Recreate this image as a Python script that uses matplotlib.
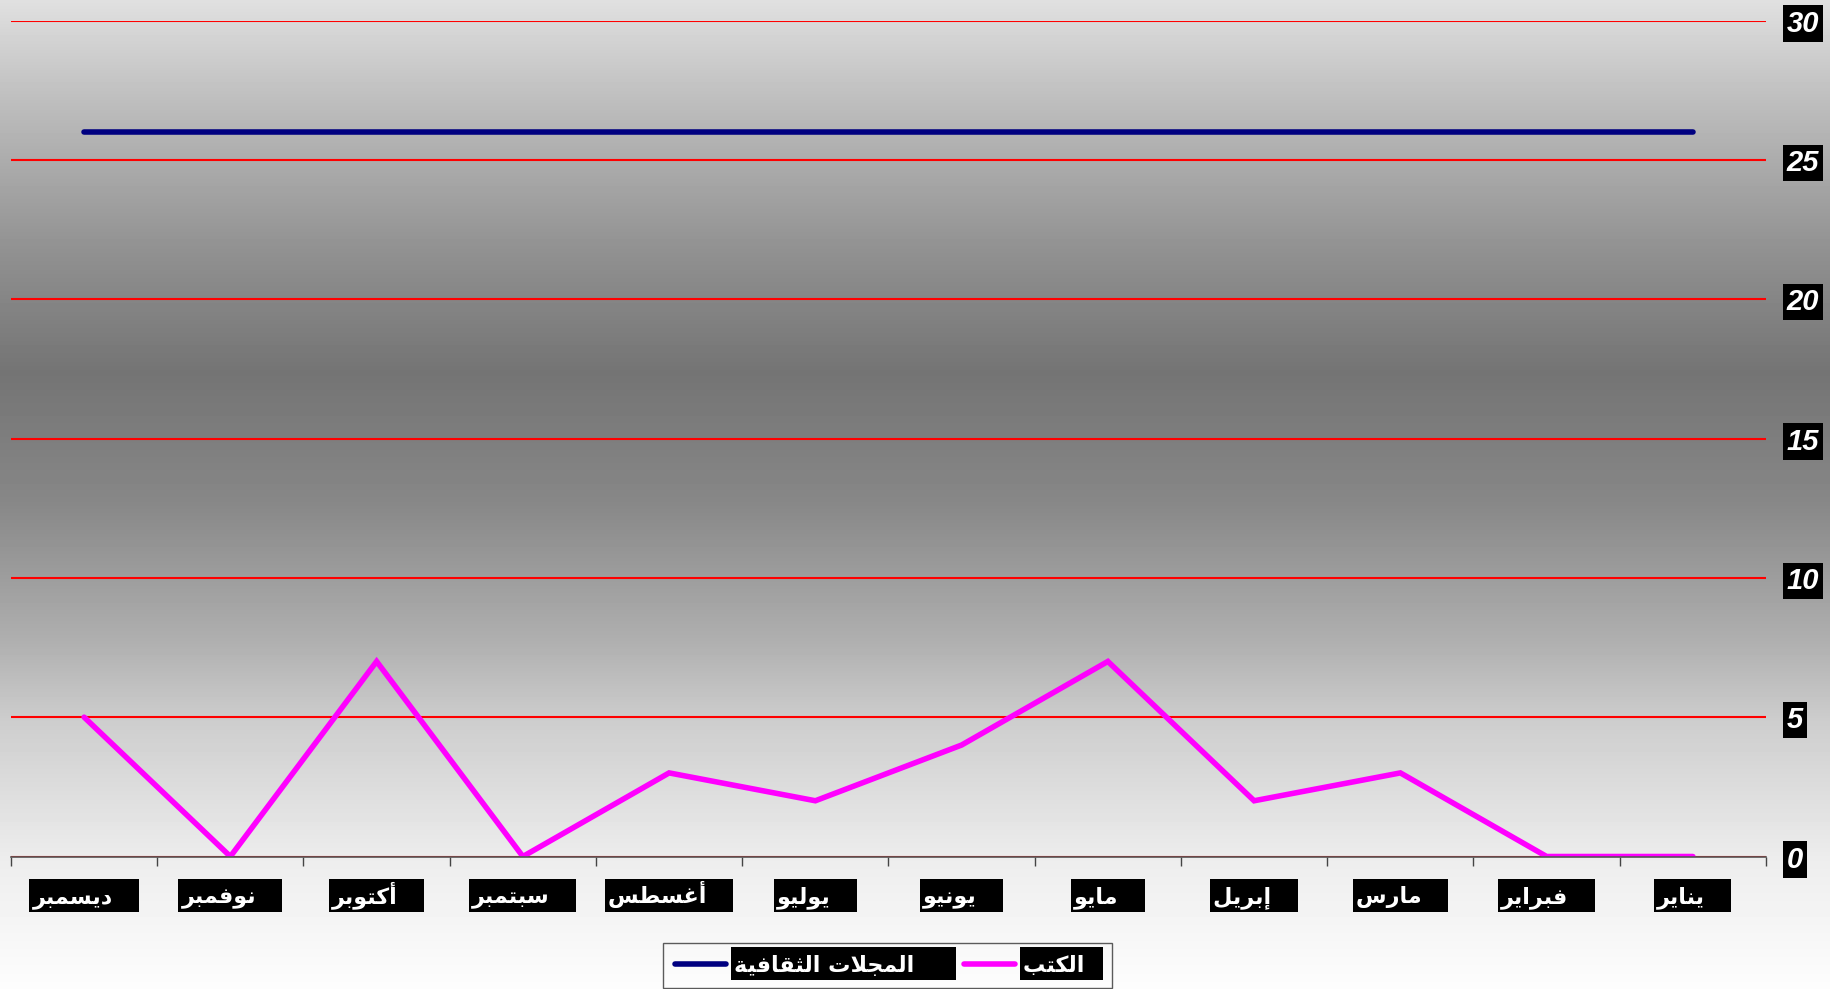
import matplotlib
matplotlib.use("Agg")
import matplotlib.pyplot as plt
import numpy as np
from matplotlib.lines import Line2D
from matplotlib.patches import Rectangle

# data (Jan -> Dec), drawn right to left
months = ["يناير", "فبراير", "مارس", "إبريل", "مايو", "يونيو",
          "يوليو", "أغسطس", "سبتمبر", "أكتوبر", "نوفمبر", "ديسمبر"]
books = [0, 0, 3, 2, 7, 4, 2, 3, 0, 7, 0, 5]
magazines = [26] * 12
name_books = "الكتب"
name_mags = "المجلات الثقافية"
yticks = [0, 5, 10, 15, 20, 25, 30]

# --- minimal arabic shaping (matplotlib has no bidi/shaping) ---
FORMS = {
    'ا': ('\uFE8D', '\uFE8E'), 'أ': ('\uFE83', '\uFE84'), 'إ': ('\uFE87', '\uFE88'),
    'ب': ('\uFE8F', '\uFE90', '\uFE91', '\uFE92'), 'ة': ('\uFE93', '\uFE94'),
    'ت': ('\uFE95', '\uFE96', '\uFE97', '\uFE98'), 'ث': ('\uFE99', '\uFE9A', '\uFE9B', '\uFE9C'),
    'ج': ('\uFE9D', '\uFE9E', '\uFE9F', '\uFEA0'), 'د': ('\uFEA9', '\uFEAA'),
    'ر': ('\uFEAD', '\uFEAE'), 'س': ('\uFEB1', '\uFEB2', '\uFEB3', '\uFEB4'),
    'ط': ('\uFEC1', '\uFEC2', '\uFEC3', '\uFEC4'), 'غ': ('\uFECD', '\uFECE', '\uFECF', '\uFED0'),
    'ف': ('\uFED1', '\uFED2', '\uFED3', '\uFED4'), 'ق': ('\uFED5', '\uFED6', '\uFED7', '\uFED8'),
    'ك': ('\uFED9', '\uFEDA', '\uFEDB', '\uFEDC'), 'ل': ('\uFEDD', '\uFEDE', '\uFEDF', '\uFEE0'),
    'م': ('\uFEE1', '\uFEE2', '\uFEE3', '\uFEE4'), 'ن': ('\uFEE5', '\uFEE6', '\uFEE7', '\uFEE8'),
    'ه': ('\uFEE9', '\uFEEA', '\uFEEB', '\uFEEC'), 'و': ('\uFEED', '\uFEEE'),
    'ي': ('\uFEF1', '\uFEF2', '\uFEF3', '\uFEF4'),
}
LAMALEF = {'ا': ('\uFEFB', '\uFEFC'), 'أ': ('\uFEF7', '\uFEF8'), 'إ': ('\uFEF9', '\uFEFA')}


def shape(text, trail=0):
    units = []
    i = 0
    while i < len(text):
        c = text[i]
        if c == 'ل' and i + 1 < len(text) and text[i + 1] in LAMALEF:
            units.append(('LA', text[i + 1]))
            i += 2
        else:
            units.append(c)
            i += 1

    def forms(u):
        if isinstance(u, tuple):
            return LAMALEF[u[1]]
        return FORMS.get(u)

    out = []
    for k, u in enumerate(units):
        f = forms(u)
        if f is None:
            out.append(u)
            continue
        prev = forms(units[k - 1]) if k > 0 else None
        nxt = forms(units[k + 1]) if k + 1 < len(units) else None
        jp = prev is not None and len(prev) == 4
        jn = len(f) == 4 and nxt is not None
        if jp and jn:
            out.append(f[3])
        elif jp:
            out.append(f[1])
        elif jn:
            out.append(f[2])
        else:
            out.append(f[0])
    return ''.join(reversed(out)) + ' ' * trail


W, H = 1831, 989
ARFONT = ['DejaVu Sans']

fig = plt.figure(figsize=(W / 100, H / 100), dpi=100)

# background gradient
bg = fig.add_axes([0, 0, 1, 1])
rows = np.arange(H)
shade = np.interp(rows, [0, 100, 250, 372, 500, 640, 720, 860, 989],
                  [224, 190, 145, 116, 135, 175, 205, 237, 253]) / 255.0
bg.imshow(np.tile(shade[:, None], (1, 4)), cmap='gray', vmin=0, vmax=1,
          aspect='auto', extent=[0, 1, 0, 1], origin='upper')
bg.set_xlim(0, 1)
bg.set_ylim(0, 1)
bg.set_axis_off()

ax = fig.add_axes([11 / W, 132.5 / H, 1755 / W, 836 / H])
ax.set_facecolor('none')

x = np.arange(len(months))
ax.plot(x, magazines, color='#000080', lw=4, solid_capstyle='round', zorder=3)
ax.plot(x, books, color='#ff00ff', lw=4, solid_capstyle='round',
        solid_joinstyle='miter', zorder=3)

ax.set_xlim(11.5, -0.5)
ax.set_ylim(0, 30)

for s in ['left', 'right', 'top']:
    ax.spines[s].set_visible(False)
ax.spines['bottom'].set_color('#555555')
ax.spines['bottom'].set_linewidth(1.2)
ax.spines['bottom'].set_zorder(4)

ax.set_axisbelow(True)
ax.grid(axis='y', color='#ff0000', lw=1.5)

ax.yaxis.tick_right()
ax.set_yticks(yticks)
ax.set_yticklabels([str(v) for v in yticks], family='Liberation Sans',
                   fontsize=21, fontweight='bold', style='italic', color='white')
ax.tick_params(axis='y', length=0, pad=15)
for t in ax.get_yticklabels():
    t.set_bbox(dict(facecolor='black', edgecolor='none', pad=3))

# baseline of the month names ~47 px under the axis line
ax.set_xticks(x)
ax.set_xticklabels([shape(m, 3) for m in months], family=ARFONT,
                   fontsize=16, fontweight='bold', color='white', va='baseline')
ax.set_xticks(np.arange(-0.5, 12, 1), minor=True)
ax.tick_params(axis='x', which='major', length=0, pad=47 * 0.72)
ax.tick_params(axis='x', which='minor', length=6.5, width=1, color='#444444', direction='out')

handles = [Line2D([], [], color='#000080', lw=4, solid_capstyle='round'),
           Line2D([], [], color='#ff00ff', lw=4, solid_capstyle='round')]
leg = fig.legend(handles, [shape(name_mags, 5), shape(name_books, 2)],
                 loc='lower center', bbox_to_anchor=(887.5 / W, 1 / H),
                 ncol=2, frameon=True, fancybox=False, handlelength=2.3,
                 handletextpad=0.35, columnspacing=0.5, borderpad=0.55,
                 borderaxespad=0,
                 prop=dict(family=ARFONT, size=16, weight='bold'))
leg.get_frame().set_edgecolor('#333333')
leg.get_frame().set_facecolor('none')
leg.get_frame().set_linewidth(1)
for t in leg.get_texts():
    t.set_color('white')

# black label boxes of uniform height, drawn under the texts
fig.canvas.draw()
r = fig.canvas.get_renderer()


def box_behind(texts, below=8, h_px=33):
    for t in texts:
        e = t.get_window_extent(r)
        base = t.get_transform().transform(t.get_position())[1]
        bg.add_patch(Rectangle(((e.x0 - 3) / W, (base - below) / H),
                               (e.width + 6) / W, h_px / H,
                               transform=fig.transFigure, facecolor='black',
                               edgecolor='none', zorder=5, clip_on=False))


box_behind(ax.get_xticklabels())
box_behind(leg.get_texts())

fig.savefig('out.png', dpi=100)
